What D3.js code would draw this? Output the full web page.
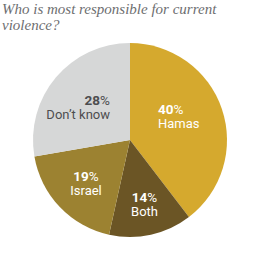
<!DOCTYPE html>
<html><head><meta charset="utf-8">
<script src="https://cdn.jsdelivr.net/npm/d3@7"></script>
<style>body{margin:0;background:#fff}</style>
</head><body>
<svg id="c" width="260" height="260"></svg>
<script>
const categories = ["Hamas", "Both", "Israel", "Don\u2019t know"];
const values = [40, 14, 19, 28];
const colors = ["#d5a92e", "#6b5525", "#9c8231", "#d6d7d7"];
const titleLines = ["Who is most responsible for current", "violence?"];

const svg = d3.select("#c");
const cx = 130, cy = 140, r = 97;

svg.selectAll("text.title").data(titleLines).join("text")
  .attr("class", "title")
  .attr("x", 2).attr("y", (d, i) => 14 + i * 16)
  .attr("font-family", "Liberation Serif, serif")
  .attr("font-style", "italic")
  .attr("font-size", 15)
  .attr("fill", "#6d6e70")
  .text(d => d);

const pie = d3.pie().sort(null).value(d => d);
const arc = d3.arc().innerRadius(0).outerRadius(r);
const arcs = pie(values);
const g = svg.append("g").attr("transform", `translate(${cx},${cy})`);
g.selectAll("path").data(arcs).join("path")
  .attr("d", arc)
  .attr("fill", (d, i) => colors[i]);

const labelPos = [
  {dx: 28, dy: -26, anchor: "start", fill: "#fff"},
  {dx: 14.5, dy: 62, anchor: "middle", fill: "#fff"},
  {dx: -44, dy: 41, anchor: "middle", fill: "#fff"},
  {dx: -20, dy: -35, anchor: "end", fill: "#4d4d4f"}
];
const lab = g.selectAll("g.lab").data(arcs).join("g").attr("class", "lab")
  .attr("transform", (d, i) => `translate(${labelPos[i].dx},${labelPos[i].dy})`)
  .attr("font-family", "Roboto, Liberation Sans, sans-serif")
  .attr("text-anchor", (d, i) => labelPos[i].anchor)
  .attr("fill", (d, i) => labelPos[i].fill);
const t1 = lab.append("text").attr("y", 0).attr("font-size", 13.5);
t1.append("tspan").attr("font-weight", "bold").text((d, i) => values[i]);
t1.append("tspan").attr("font-weight", "normal").text("%");
lab.append("text").attr("y", 14).attr("font-size", 13)
  .text((d, i) => categories[i]);
</script>
</body></html>
